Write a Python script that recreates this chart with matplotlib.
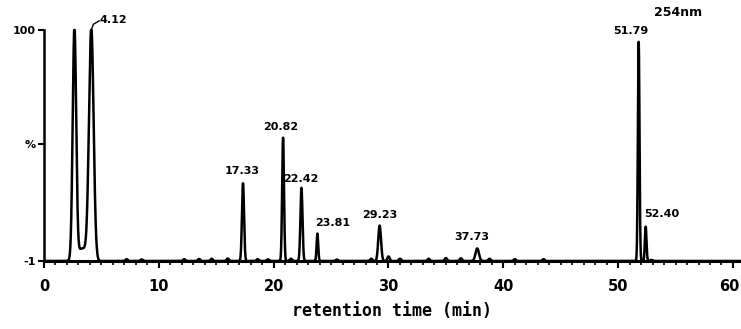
import numpy as np
import matplotlib
matplotlib.use("Agg")
import matplotlib.pyplot as plt
import matplotlib.transforms as mtransforms

# Peak table (retention time in min, relative height in %, width sigma in min)
peak_times = [2.65, 4.12, 17.33, 20.82, 22.42, 23.81, 29.23, 37.73, 51.79, 52.40]
peak_heights = [101, 101, 34, 54, 32, 12, 15.5, 5.5, 96, 15]
peak_sigmas = [0.15, 0.2, 0.09, 0.08, 0.09, 0.07, 0.12, 0.15, 0.07, 0.07]
peak_labels = ["", "4.12", "17.33", "20.82", "22.42", "23.81", "29.23", "37.73", "51.79", "52.40"]

# small baseline bumps (time, height)
noise_times = [3.35, 7.2, 8.5, 12.2, 13.5, 14.6, 16.0, 18.6, 19.5, 21.5, 25.5, 28.5, 30.0,
               31.0, 33.5, 35.0, 36.3, 38.8, 41.0, 43.5, 52.9]
noise_heights = [5.5, 0.8, 0.7, 0.8, 0.9, 1.0, 1.1, 0.8, 0.7, 1.0, 0.6, 1.0, 2.0,
                 1.0, 1.0, 1.3, 1.2, 1.0, 0.8, 0.8, 0.5]

x_ticks = [0, 10, 20, 30, 40, 50, 60]

fig = plt.figure(figsize=(7.41, 3.29), dpi=100)
ax = fig.add_axes([44/741, 1 - 261/329, 1 - 44/741, (261 - 30)/329])

t = np.linspace(0.1, 60.6, 6000)
y = np.full_like(t, -1.0)
for pt, ph, ps in zip(peak_times, peak_heights, peak_sigmas):
    y += ph * np.exp(-0.5 * ((t - pt) / ps) ** 2)
for nt, nh in zip(noise_times, noise_heights):
    w = 0.45 if nt == 3.35 else 0.1
    y += nh * np.exp(-0.5 * ((t - nt) / w) ** 2)
y = np.minimum(y, 100)
ax.plot(t, y, color="black", lw=1.8, clip_on=False)

ax.set_xlim(0, 60.7)
ax.set_ylim(-1, 100)
for s in ["top", "right"]:
    ax.spines[s].set_visible(False)
ax.spines["left"].set_linewidth(1.8)
ax.spines["bottom"].set_linewidth(2.2)
ax.spines["left"].set_bounds(-1, 100)

ax.set_xticks(x_ticks)
ax.set_xticks(np.arange(0, 61, 1), minor=True)
ax.set_xticklabels([str(v) for v in x_ticks], fontsize=10.5, fontweight="bold")
ax.tick_params(axis="x", which="major", length=5, width=1.5, direction="out", pad=8)
ax.tick_params(axis="x", which="minor", length=3, width=1.2, direction="out")
last = ax.get_xticklabels()[-1]
last.set_horizontalalignment("right")
last.set_transform(last.get_transform() + mtransforms.ScaledTranslation(7/100, 0, fig.dpi_scale_trans))

ax.set_yticks([-1, 50, 100])
ax.set_yticklabels(["-1", "%", "100"], fontsize=8, fontweight="bold")
ax.tick_params(axis="y", length=4, width=1.5, direction="out", pad=2)

ax.set_xlabel("retention time (min)", fontsize=12, fontweight="bold",
              family="DejaVu Sans Mono", labelpad=6)

fnt = dict(fontsize=8, fontweight="bold", color="black")
label_pos = {
    "4.12": (4.85, 104.5, "left"),
    "17.33": (17.3, 38.5, "center"),
    "20.82": (20.6, 57.5, "center"),
    "22.42": (22.4, 35.0, "center"),
    "23.81": (25.1, 15.5, "center"),
    "29.23": (29.2, 19.0, "center"),
    "37.73": (37.3, 9.5, "center"),
    "51.79": (51.1, 99.5, "center"),
    "52.40": (52.25, 19.5, "left"),
}
for lab in peak_labels:
    if lab:
        xx, yy, ha = label_pos[lab]
        ax.text(xx, yy, lab, ha=ha, va="center", clip_on=False, **fnt)
ax.plot([4.12, 4.3, 4.8], [100, 102.5, 104], color="black", lw=1.0, clip_on=False)
ax.text(53.1, 107.5, "254nm", fontsize=9, fontweight="bold", va="center", ha="left")

fig.savefig("out.png", dpi=100)
